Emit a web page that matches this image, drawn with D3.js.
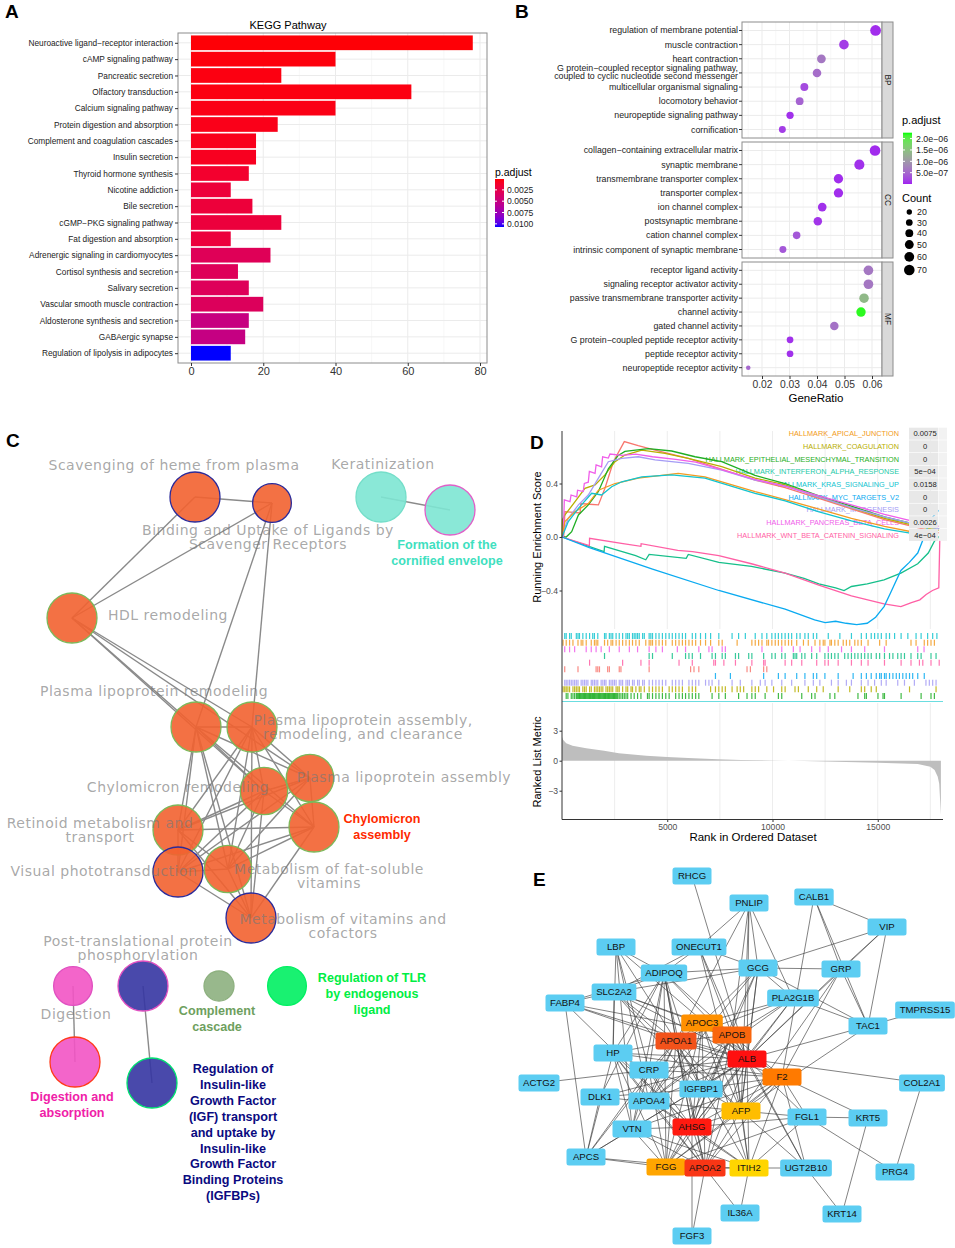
<!DOCTYPE html>
<html>
<head>
<meta charset="utf-8">
<script src="https://cdn.jsdelivr.net/npm/d3@7/dist/d3.min.js"></script>
<style>
body { margin: 0; background: #fff; }
svg { display: block; }
</style>
</head>
<body>
<svg id="fig" width="955" height="1248"></svg>
<script>
const SANS = "'Liberation Sans', Arial, Helvetica, sans-serif";
const VERD = "'DejaVu Sans', Verdana, sans-serif";

// ---------------- A: KEGG barplot data
const keggTerms = ["Neuroactive ligand\u2212receptor interaction", "cAMP signaling pathway", "Pancreatic secretion",
  "Olfactory transduction", "Calcium signaling pathway", "Protein digestion and absorption",
  "Complement and coagulation cascades", "Insulin secretion", "Thyroid hormone synthesis", "Nicotine addiction",
  "Bile secretion", "cGMP\u2212PKG signaling pathway", "Fat digestion and absorption",
  "Adrenergic signaling in cardiomyocytes", "Cortisol synthesis and secretion", "Salivary secretion",
  "Vascular smooth muscle contraction", "Aldosterone synthesis and secretion", "GABAergic synapse",
  "Regulation of lipolysis in adipocytes"];
const keggCounts = [78, 40, 25, 61, 40, 24, 18, 18, 16, 11, 17, 25, 11, 22, 13, 16, 20, 16, 15, 11];
const keggPadj = [0.0002, 0.0003, 0.0004, 0.0004, 0.0005, 0.0006, 0.0007, 0.0008, 0.0013, 0.0018, 0.0018, 0.0019,
  0.0019, 0.0031, 0.0032, 0.0032, 0.0033, 0.0050, 0.0051, 0.0107];
const keggXTicks = [0, 20, 40, 60, 80];
const keggLegendTicks = [0.0025, 0.005, 0.0075, 0.01];

// ---------------- B: GO dotplot data
const bpTerms = ["regulation of membrane potential", "muscle contraction", "heart contraction",
  "G protein\u2212coupled receptor signaling pathway,\ncoupled to cyclic nucleotide second messenger",
  "multicellular organismal signaling", "locomotory behavior", "neuropeptide signaling pathway", "cornification"];
const bpRatio = [0.0613, 0.0498, 0.0416, 0.0400, 0.0354, 0.0337, 0.0302, 0.0274];
const bpCount = [72, 58, 49, 47, 41, 39, 35, 32];
const bpPadj = [6e-8, 1.5e-7, 6.5e-7, 5.5e-7, 2.5e-7, 4.5e-7, 8e-8, 1.5e-7];
const ccTerms = ["collagen\u2212containing extracellular matrix", "synaptic membrane", "transmembrane transporter complex",
  "transporter complex", "ion channel complex", "postsynaptic membrane", "cation channel complex",
  "intrinsic component of synaptic membrane"];
const ccRatio = [0.0611, 0.0554, 0.0478, 0.0478, 0.0419, 0.0403, 0.0326, 0.0276];
const ccCount = [70, 64, 55, 55, 48, 46, 37, 32];
const ccPadj = [5e-8, 8e-8, 6e-8, 6e-8, 8e-8, 1e-7, 3.5e-7, 3.5e-7];
const mfTerms = ["receptor ligand activity", "signaling receptor activator activity",
  "passive transmembrane transporter activity", "channel activity", "gated channel activity",
  "G protein\u2212coupled peptide receptor activity", "peptide receptor activity", "neuropeptide receptor activity"];
const mfRatio = [0.0587, 0.0587, 0.0571, 0.0560, 0.0463, 0.0302, 0.0302, 0.0150];
const mfCount = [59, 59, 57, 56, 46, 30, 30, 15];
const mfPadj = [6.5e-7, 6.5e-7, 1.4e-6, 2.2e-6, 6e-7, 8e-8, 8e-8, 5e-7];
const goXTicks = [0.02, 0.03, 0.04, 0.05, 0.06];
const goLegendTicks = [2e-6, 1.5e-6, 1e-6, 5e-7];
const goLegendLabels = ["2.0e\u221206", "1.5e\u221206", "1.0e\u221206", "5.0e\u221207"];
const countLegend = [20, 30, 40, 50, 60, 70];

// ---------------- C: term network data
const cTerms = ["Scavenging of heme from plasma", "Binding and Uptake of Ligands by Scavenger Receptors",
  "Keratinization", "Formation of the cornified envelope", "HDL remodeling", "Plasma lipoprotein remodeling",
  "Plasma lipoprotein assembly, remodeling, and clearance", "Chylomicron remodeling", "Plasma lipoprotein assembly",
  "Chylomicron assembly", "Retinoid metabolism and transport", "Visual phototransduction",
  "Metabolism of fat-soluble vitamins", "Metabolism of vitamins and cofactors",
  "Post-translational protein phosphorylation", "Digestion", "Complement cascade",
  "Regulation of TLR by endogenous ligand", "Digestion and absorption",
  "Regulation of Insulin-like Growth Factor (IGF) transport and uptake by Insulin-like Growth Factor Binding Proteins (IGFBPs)"];
const cCluster = [0, 0, 1, 1, 0, 0, 0, 0, 0, 0, 0, 0, 0, 0, 2, 3, 4, 5, 3, 2];
const cHits = [10, 6, 10, 10, 10, 10, 10, 9, 9, 10, 10, 10, 9, 10, 10, 6, 3.6, 6, 10, 10];
const cEdges = "0-1 0-4 1-4 1-5 1-6 2-3 4-5 4-6 4-7 4-8 5-6 5-7 5-8 5-9 5-10 5-11 5-12 5-13 6-7 6-8 6-9 6-10 6-11 6-12 6-13 7-8 7-9 7-10 7-11 7-12 7-13 8-9 8-10 8-11 8-12 9-10 9-11 9-12 9-13 10-11 10-12 10-13 11-12 11-13 12-13 14-19 15-18";
// layout (network coordinates)
const cLayout = [[195, 497], [272, 503], [381, 497], [450, 510], [72, 618], [196, 727], [252, 727], [264, 791],
  [310, 778], [314, 827], [178, 830], [178, 872], [228, 869], [251, 918], [143, 986], [73, 986], [219, 986],
  [287, 986], [75, 1062], [152, 1083]];
const cLabelLines = [["Scavenging of heme from plasma"], ["Binding and Uptake of Ligands by", "Scavenger Receptors"],
  ["Keratinization"], ["Formation of the", "cornified envelope"], ["HDL remodeling"], ["Plasma lipoprotein remodeling"],
  ["Plasma lipoprotein assembly,", "remodeling, and clearance"], ["Chylomicron remodeling"],
  ["Plasma lipoprotein assembly"], ["Chylomicron", "assembly"], ["Retinoid metabolism and", "transport"],
  ["Visual phototransduction"], ["Metabolism of fat-soluble", "vitamins"], ["Metabolism of vitamins and", "cofactors"],
  ["Post-translational protein", "phosphorylation"], ["Digestion"], ["Complement", "cascade"],
  ["Regulation of TLR", "by endogenous", "ligand"], ["Digestion and", "absorption"],
  ["Regulation of", "Insulin-like", "Growth Factor", "(IGF) transport", "and uptake by", "Insulin-like",
    "Growth Factor", "Binding Proteins", "(IGFBPs)"]];
const cLabelPos = [[174, 470], [268, 535], [383, 469], [447, 549], [168, 620], [154, 696], [363, 725], [178, 792],
  [404, 782], [382, 823], [100, 828], [104, 876], [329, 874], [343, 924], [138, 946], [76, 1019], [217, 1015],
  [372, 982], [72, 1101], [233, 1073]];
const cLabelBold = [0, 0, 0, 1, 0, 0, 0, 0, 0, 1, 0, 0, 0, 0, 0, 0, 1, 1, 1, 1];

// ---------------- D: GSEA data (ranks in thousands)
const gsNames = ["HALLMARK_APICAL_JUNCTION", "HALLMARK_COAGULATION", "HALLMARK_EPITHELIAL_MESENCHYMAL_TRANSITION",
  "HALLMARK_INTERFERON_ALPHA_RESPONSE", "HALLMARK_KRAS_SIGNALING_UP", "HALLMARK_MYC_TARGETS_V2",
  "HALLMARK_MYOGENESIS", "HALLMARK_PANCREAS_BETA_CELLS", "HALLMARK_WNT_BETA_CATENIN_SIGNALING"];
const gsPvals = ["0.0075", "0", "0", "5e\u221204", "0.0158", "0", "0", "0.0026", "4e\u221204"];
const esApical = [[0, 0], [0.14, 0.115], [0.62, 0.19], [1.25, 0.25], [1.73, 0.35], [2.52, 0.4], [3.62, 0.44], [5.52, 0.476], [6.79, 0.45], [9.17, 0.34], [10.6, 0.28], [12.17, 0.21], [13.75, 0.14], [15.32, 0.08], [16.9, 0.03], [17.92, 0]];
const esCoag = [[0, 0], [0.02, 0.13], [0.14, 0.165], [0.62, 0.264], [1.09, 0.364], [1.57, 0.39], [2.04, 0.464], [2.52, 0.563], [2.99, 0.613], [3.79, 0.65], [4.89, 0.626], [6.0, 0.588], [7.59, 0.526], [9.17, 0.44], [10.6, 0.39], [12.17, 0.3], [13.75, 0.22], [15.32, 0.14], [16.9, 0.08], [17.92, 0.05]];
const esEmt = [[0, 0], [0.2, 0], [0.46, 0.04], [0.78, 0.165], [1.25, 0.24], [1.73, 0.34], [2.2, 0.51], [2.67, 0.61], [2.99, 0.64], [4.1, 0.66], [5.21, 0.643], [6.32, 0.6], [7.59, 0.563], [9.17, 0.46], [10.6, 0.4], [12.17, 0.31], [13.75, 0.23], [15.32, 0.15], [16.9, 0.09], [17.92, 0.06]];
const esIfn = [[0, 0], [2.0, -0.11], [2.02, -0.07], [3.5, -0.14], [3.98, -0.17], [4.14, -0.13], [5.9, -0.16], [6.0, -0.13], [7.45, -0.19], [9.0, -0.22], [10.6, -0.27], [11.5, -0.31], [12.2, -0.35], [13.0, -0.38], [13.4, -0.4], [13.75, -0.37], [14.5, -0.35], [15.3, -0.32], [16.1, -0.27], [16.9, -0.2], [17.4, -0.12], [17.7, -0.03], [17.9, 0]];
const esKras = [[0, 0], [0.3, 0.115], [0.78, 0.214], [1.41, 0.327], [1.88, 0.314], [2.36, 0.376], [2.84, 0.413], [3.79, 0.45], [5.21, 0.464], [6.79, 0.44], [9.17, 0.327], [10.6, 0.27], [12.17, 0.19], [13.75, 0.12], [15.32, 0.06], [16.9, 0.02], [17.92, 0]];
const esMyc = [[0, 0], [1.3, -0.08], [4.3, -0.24], [7.45, -0.4], [10.6, -0.54], [12.0, -0.62], [12.5, -0.64], [13.0, -0.63], [13.5, -0.645], [14.0, -0.655], [14.5, -0.645], [14.9, -0.6], [15.1, -0.56], [15.3, -0.52], [15.6, -0.42], [16.1, -0.25], [16.5, -0.19], [16.9, -0.12], [17.2, 0], [17.5, 0.13], [17.9, 0.2]];
const esMyo = [[0, 0.02], [0.06, 0.04], [0.3, 0.14], [0.78, 0.24], [1.25, 0.314], [1.73, 0.44], [2.2, 0.563], [2.84, 0.588], [3.62, 0.6], [4.42, 0.576], [6.0, 0.551], [7.59, 0.5], [9.17, 0.426], [10.6, 0.38], [12.17, 0.3], [13.75, 0.22], [15.32, 0.15], [16.9, 0.09], [17.92, 0.06]];
const esPancreas = [[0, 0], [0.06, 0], [0.11, 0.277], [0.38, 0.264], [0.43, 0.314], [0.7, 0.3], [0.74, 0.35], [1.01, 0.34], [1.06, 0.4], [1.25, 0.41], [1.3, 0.49], [1.57, 0.476], [1.62, 0.54], [1.88, 0.525], [1.93, 0.6], [2.2, 0.59], [2.28, 0.62], [2.84, 0.61], [3.5, 0.62], [4.3, 0.6], [5.4, 0.58], [6.35, 0.56], [7.45, 0.51], [9.17, 0.43], [10.6, 0.38], [12.17, 0.31], [13.75, 0.24], [15.32, 0.17], [16.9, 0.11], [17.92, 0.08]];
const esWnt = [[0, 0], [1.3, -0.065], [1.31, -0.01], [2.9, -0.05], [3.75, -0.07], [3.76, -0.05], [5.5, -0.1], [6.2, -0.11], [7.45, -0.14], [9.0, -0.2], [10.6, -0.27], [12.2, -0.36], [13.75, -0.44], [15.3, -0.5], [16.1, -0.52], [16.6, -0.49], [17.0, -0.47], [17.3, -0.43], [17.6, -0.4], [17.9, -0.38], [17.95, 0]];
const esExtra = [[0, 0], [0.08, 0], [0.14, 0.19], [0.86, 0.18], [0.89, 0.25], [1.3, 0.245], [1.73, 0.24], [2.04, 0.364], [2.44, 0.563], [2.96, 0.713], [3.62, 0.683], [4.42, 0.65], [6.0, 0.588], [9.17, 0.426], [10.6, 0.37], [12.17, 0.29], [13.75, 0.21], [15.32, 0.13], [16.9, 0.07], [17.92, 0.03]];
const rugKras = [0.13, 0.2, 0.36, 0.44, 0.68, 0.76, 0.83, 0.99, 1.15, 1.31, 1.46, 1.54, 1.7, 2.02, 2.09, 2.25, 2.33, 2.41, 2.57, 2.72, 2.88, 3.04, 3.12, 3.2, 3.35, 3.43, 3.51, 3.59, 3.67, 3.83, 3.91, 4.14, 4.22, 4.3, 4.46, 4.61, 4.77, 4.93, 5.09, 5.24, 5.4, 5.56, 5.72, 5.87, 6.19, 6.35, 6.58, 6.82, 7.06, 7.45, 8.08, 8.39, 8.71, 9.18, 9.5, 9.73, 9.97, 10.13, 10.28, 10.44, 10.6, 10.76, 10.91, 11.15, 11.31, 11.54, 11.7, 11.94, 12.1, 12.65, 13.2, 13.75, 14.22, 14.46, 14.69, 14.85, 15.01, 15.17, 15.4, 15.56, 15.8, 16.11, 16.43, 16.82, 17.06, 17.37, 17.61, 17.81];
const rugApical = [0.05, 0.2, 0.36, 0.52, 0.76, 0.91, 0.99, 1.15, 1.39, 1.54, 1.62, 1.7, 2.02, 2.17, 2.33, 2.41, 2.57, 2.72, 2.88, 3.04, 3.2, 3.35, 3.51, 3.67, 3.98, 4.14, 4.22, 4.3, 4.46, 4.61, 4.77, 4.93, 5.24, 5.4, 5.56, 5.72, 5.87, 6.03, 6.19, 6.35, 6.58, 6.82, 7.06, 7.45, 7.61, 8.32, 9.02, 9.18, 9.34, 9.5, 9.73, 9.81, 9.97, 10.13, 10.28, 10.44, 10.6, 10.76, 10.91, 11.15, 11.47, 11.7, 12.02, 12.25, 12.41, 12.49, 12.73, 12.8, 12.96, 13.12, 13.36, 13.51, 13.67, 13.91, 14.06, 14.22, 14.54, 15.09, 15.4, 16.58, 16.82, 17.21, 17.37, 17.53, 17.69];
const rugPancreas = [0.13, 0.36, 0.6, 1.15, 1.39, 1.62, 1.86, 2.25, 2.72, 3.2, 3.59, 4.14, 4.46, 4.77, 5.48, 5.87, 6.5, 6.98, 7.13, 7.61, 7.76, 9.5, 10.44, 10.99, 11.31, 11.86, 12.25, 12.65, 13.28, 13.75, 14.38, 15.32, 16.9, 17.2];
const rugIfn = [2.02, 4.14, 4.3, 5.24, 5.87, 6.03, 6.19, 6.58, 7.13, 7.29, 7.61, 7.76, 8.24, 8.39, 8.87, 9.02, 9.58, 9.97, 10.13, 10.44, 10.6, 10.99, 11.07, 11.15, 11.39, 11.54, 11.86, 12.1, 12.49, 12.65, 12.8, 12.96, 13.12, 13.43, 13.59, 13.75, 13.91, 14.06, 14.22, 14.38, 14.54, 14.69, 14.93, 15.09, 15.32, 15.56, 15.72, 15.95, 16.11, 16.27, 16.58, 16.9, 17.06, 17.53, 17.77];
const rugWnt = [1.31, 2.88, 3.75, 4.14, 5.56, 6.19, 7.21, 7.29, 7.69, 8.24, 9.02, 9.58, 9.65, 10.6, 10.91, 11.39, 12.1, 12.49, 12.65, 13.12, 13.75, 14.22, 14.54, 15.32, 16.11, 16.58, 16.98, 17.14, 17.53, 17.92];
const rugExtra = [0.13, 0.76, 1.62, 1.7, 1.78, 2.17, 2.25, 2.72, 2.8, 4.14, 6.11, 6.27, 6.5, 8.79, 8.95, 9.58, 9.73];
const rugMyc = [7.29, 8.0, 9.58, 10.28, 10.6, 11.15, 11.54, 11.94, 12.1, 12.49, 13.12, 13.83, 14.22, 14.46, 14.69, 14.93, 15.09, 15.17, 15.32, 15.4, 15.56, 15.72, 15.88, 16.03, 16.19, 16.35, 16.51, 16.66, 16.9, 17.21];
const rugMyo = [0.13, 0.2, 0.28, 0.36, 0.44, 0.52, 0.6, 0.68, 0.76, 0.91, 0.99, 1.07, 1.15, 1.23, 1.39, 1.46, 1.54, 1.62, 1.7, 1.86, 1.94, 2.02, 2.09, 2.25, 2.33, 2.41, 2.49, 2.57, 2.72, 2.8, 2.88, 3.04, 3.12, 3.2, 3.35, 3.43, 3.59, 3.67, 3.83, 3.91, 4.14, 4.3, 4.46, 4.61, 4.77, 4.93, 5.24, 5.4, 5.56, 5.72, 6.03, 6.19, 6.35, 6.5, 6.82, 6.98, 7.13, 7.45, 8.08, 8.47, 9.02, 9.42, 9.65, 9.97, 10.44, 10.91, 11.54, 11.94, 12.25, 12.8, 13.12, 13.51, 13.75, 14.22, 14.54, 14.85, 15.17, 15.4, 15.95, 16.27, 16.74, 17.29, 17.45, 17.61, 17.77];
const rugCoag = [0.05, 0.13, 0.2, 0.28, 0.36, 0.52, 0.6, 0.68, 0.76, 0.83, 0.99, 1.07, 1.15, 1.31, 1.39, 1.54, 1.62, 1.7, 1.78, 1.86, 1.94, 2.09, 2.17, 2.25, 2.33, 2.41, 2.57, 2.65, 2.72, 2.88, 3.04, 3.12, 3.28, 3.35, 3.51, 3.67, 3.75, 3.91, 4.14, 4.3, 4.46, 4.61, 4.77, 5.09, 5.24, 5.4, 5.56, 5.72, 6.03, 6.19, 6.35, 7.06, 7.29, 7.45, 7.61, 7.76, 8.08, 8.32, 8.47, 8.63, 9.02, 9.18, 9.34, 9.73, 10.05, 10.44, 10.6, 11.07, 11.23, 11.7, 12.1, 12.41, 13.12, 13.67, 14.22, 14.38, 14.69, 14.93, 16.51, 17.77];
const rugEmt = [0.2, 0.28, 0.44, 0.52, 0.6, 0.68, 0.72, 0.76, 0.8, 0.83, 0.87, 0.91, 0.95, 0.99, 1.03, 1.07, 1.11, 1.15, 1.19, 1.23, 1.27, 1.31, 1.35, 1.39, 1.43, 1.46, 1.5, 1.54, 1.58, 1.62, 1.66, 1.7, 1.74, 1.78, 1.82, 1.86, 1.9, 1.94, 1.98, 2.02, 2.06, 2.09, 2.13, 2.17, 2.21, 2.25, 2.29, 2.33, 2.37, 2.41, 2.45, 2.49, 2.53, 2.57, 2.61, 2.65, 2.72, 2.8, 2.88, 2.96, 3.04, 3.12, 3.28, 3.43, 3.59, 3.75, 4.06, 4.14, 4.3, 4.46, 4.61, 4.77, 4.93, 5.09, 5.4, 5.56, 5.72, 5.87, 6.03, 6.19, 6.35, 6.5, 7.13, 7.45, 7.76, 8.39, 8.79, 9.02, 9.18, 9.65, 10.28, 10.44, 11.39, 11.86, 12.02, 12.73, 12.96, 14.06, 14.38, 14.46, 15.01, 15.25, 15.32, 16.11, 17.06, 17.53, 17.69];
const rankedMetric = [[0, 2.4], [0.05, 2.1], [0.2, 1.75], [0.5, 1.5], [1.15, 1.24], [2, 1.0], [2.7, 0.75], [4, 0.5], [5, 0.36], [6, 0.26], [7.4, 0.15], [8.5, 0.08], [10, 0.02], [11.5, -0.04], [13, -0.1], [15, -0.2], [16.9, -0.33], [17.5, -0.6], [17.7, -0.93], [17.85, -1.6], [17.92, -2.3], [18.0, -5.4]];
const esTicks = [-0.4, 0, 0.4];
const rmTicks = [-3, 0, 3];
const rankTicks = [5, 10, 15];

// ---------------- E: PPI network data
const ppiGenes = ["RHCG", "PNLIP", "CALB1", "VIP", "LBP", "ONECUT1", "GCG", "GRP", "ADIPOQ", "SLC2A2", "FABP4",
  "PLA2G1B", "TMPRSS15", "TAC1", "APOC3", "APOB", "APOA1", "HP", "ALB", "CRP", "F2", "ACTG2", "COL2A1", "IGFBP1",
  "DLK1", "APOA4", "AFP", "FGL1", "KRT5", "AHSG", "VTN", "APCS", "FGG", "APOA2", "ITIH2", "UGT2B10", "PRG4",
  "IL36A", "KRT14", "FGF3"];
const hubGenes = ["ALB", "AHSG", "APOA2", "APOA1", "APOB", "F2", "APOC3", "FGG", "AFP", "ITIH2"];
const ppiEdges = "RHCG-ALB PNLIP-ONECUT1 PNLIP-ALB PNLIP-APOB PNLIP-APOA1 PNLIP-AFP PNLIP-PLA2G1B PNLIP-GCG " +
  "CALB1-VIP CALB1-TAC1 CALB1-GRP CALB1-F2 VIP-GCG VIP-GRP VIP-TAC1 VIP-ALB GRP-GCG GRP-TAC1 GRP-ALB GRP-AFP GRP-F2 " +
  "LBP-ADIPOQ LBP-HP LBP-CRP LBP-APOA1 LBP-ALB LBP-APOA4 LBP-VTN ONECUT1-ADIPOQ ONECUT1-GCG ONECUT1-ALB ONECUT1-AFP " +
  "ONECUT1-APOB ONECUT1-SLC2A2 GCG-ADIPOQ GCG-SLC2A2 GCG-APOC3 GCG-ALB GCG-AFP GCG-APOA4 GCG-TAC1 GCG-IGFBP1 " +
  "GCG-AHSG GCG-PLA2G1B ADIPOQ-SLC2A2 ADIPOQ-APOA1 ADIPOQ-ALB ADIPOQ-CRP ADIPOQ-HP ADIPOQ-APOB ADIPOQ-IGFBP1 " +
  "ADIPOQ-DLK1 ADIPOQ-VTN ADIPOQ-AHSG ADIPOQ-APOA2 ADIPOQ-FGG SLC2A2-FABP4 SLC2A2-APOB SLC2A2-ALB SLC2A2-APOC3 " +
  "SLC2A2-HP SLC2A2-APOA1 SLC2A2-AFP SLC2A2-IGFBP1 FABP4-APOA1 FABP4-ALB FABP4-APCS FABP4-ADIPOQ FABP4-APOB " +
  "FABP4-AHSG PLA2G1B-APOA1 PLA2G1B-APOB PLA2G1B-ALB PLA2G1B-APOC3 PLA2G1B-TAC1 PLA2G1B-AHSG PLA2G1B-APOA4 " +
  "TMPRSS15-TAC1 TAC1-ALB TAC1-AFP HP-ALB HP-APOA1 HP-CRP HP-APOA4 HP-VTN HP-AHSG HP-APOA2 HP-FGG HP-APCS HP-F2 " +
  "CRP-ALB CRP-APOA1 CRP-APCS CRP-IGFBP1 CRP-AHSG CRP-FGG CRP-F2 CRP-APOA2 CRP-VTN ACTG2-CRP IGFBP1-ALB IGFBP1-AFP " +
  "IGFBP1-AHSG IGFBP1-APOA1 IGFBP1-F2 DLK1-AFP DLK1-APCS DLK1-IGFBP1 DLK1-ALB APOA4-ALB APOA4-APOA1 APOA4-APOB " +
  "APOA4-APOC3 APOA4-AHSG APOA4-APOA2 APOA4-ITIH2 VTN-ALB VTN-APOA1 VTN-AHSG VTN-F2 VTN-FGG VTN-APCS VTN-ITIH2 " +
  "VTN-APOA2 APCS-FGG APCS-APOA2 APCS-ALB APCS-APOA1 FGL1-F2 FGL1-ALB FGL1-AFP FGL1-ITIH2 FGL1-FGG FGL1-AHSG " +
  "FGL1-KRT5 FGL1-PRG4 KRT5-KRT14 KRT5-F2 COL2A1-ALB COL2A1-PRG4 UGT2B10-ITIH2 UGT2B10-ALB UGT2B10-F2 UGT2B10-AFP " +
  "UGT2B10-KRT14 UGT2B10-APOB IL36A-APOA2 IL36A-ITIH2 FGF3-APOA2 FGF3-AHSG " +
  "ALB-APOA1 ALB-APOB ALB-APOC3 ALB-AHSG ALB-APOA2 ALB-F2 ALB-AFP ALB-FGG ALB-ITIH2 APOA1-APOB APOA1-APOC3 " +
  "APOA1-AHSG APOA1-APOA2 APOA1-F2 APOA1-AFP APOA1-FGG APOA1-ITIH2 APOB-APOC3 APOB-AHSG APOB-APOA2 APOB-F2 " +
  "APOB-AFP APOB-FGG APOB-ITIH2 APOC3-AHSG APOC3-APOA2 APOC3-F2 APOC3-AFP APOC3-FGG APOC3-ITIH2 AHSG-APOA2 " +
  "AHSG-F2 AHSG-AFP AHSG-FGG AHSG-ITIH2 APOA2-F2 APOA2-AFP APOA2-FGG APOA2-ITIH2 F2-AFP F2-FGG F2-ITIH2 AFP-FGG " +
  "AFP-ITIH2 FGG-ITIH2";
// layout (network coordinates)
const ppiLayout = [[692, 876], [749, 903], [814, 897], [887, 927], [616, 947], [699, 947], [758, 968], [841, 969],
  [664, 973], [614, 992], [565, 1003], [793, 998], [925, 1010], [868, 1026], [702, 1023], [732, 1035], [676, 1041],
  [613, 1053], [747, 1059], [649, 1070], [782, 1077], [539, 1083], [922, 1083], [701, 1089], [600, 1097],
  [649, 1101], [741, 1111], [807, 1117], [868, 1118], [692, 1127], [632, 1129], [586, 1157], [666, 1167],
  [705, 1168], [749, 1168], [806, 1168], [895, 1172], [740, 1213], [842, 1214], [692, 1236]];

// =====================================================================
const svg = d3.select("#fig");
svg.append("rect").attr("width", 955).attr("height", 1248).attr("fill", "#fff");
const defs = svg.append("defs");

function txt(g, x, y, s, o = {}) {
  return g.append("text").attr("x", x).attr("y", y)
    .attr("font-family", o.family || SANS).attr("font-size", o.size || 10)
    .attr("font-weight", o.weight || "normal").attr("fill", o.fill || "#000")
    .attr("text-anchor", o.anchor || "start").text(s);
}

// vertical colour bar; topIsMax decides which end of the domain sits at the top
function gradient(id, scale, domain, topIsMax) {
  const gr = defs.append("linearGradient").attr("id", id)
    .attr("x1", 0).attr("y1", 0).attr("x2", 0).attr("y2", 1);
  d3.range(0, 1.0001, 0.05).forEach(t => {
    const v = topIsMax ? domain[1] - t * (domain[1] - domain[0]) : domain[0] + t * (domain[1] - domain[0]);
    gr.append("stop").attr("offset", t).attr("stop-color", scale(v));
  });
}

// ---------------- Panel A
(function () {
  const g = svg.append("g");
  const L = 178, R = 487, T = 33, B = 363;
  const x = d3.scaleLinear().domain([0, 80]).range([191, 480]);
  const y = d3.scalePoint().domain(keggTerms).range([T, B]).padding(0.6);
  const dom = [0.0001, 0.0107];
  const col = d3.scaleLinear().domain(dom).range(["#ff0000", "#0000ff"]).interpolate(d3.interpolateLab);
  const bw = y.step() * 0.9;

  g.selectAll("line.mn").data([10, 30, 50, 70]).join("line").attr("class", "mn")
    .attr("x1", d => x(d)).attr("x2", d => x(d)).attr("y1", T).attr("y2", B)
    .attr("stroke", "#F4F4F4").attr("stroke-width", 0.6);
  g.selectAll("line.mj").data(keggXTicks).join("line").attr("class", "mj")
    .attr("x1", d => x(d)).attr("x2", d => x(d)).attr("y1", T).attr("y2", B)
    .attr("stroke", "#EBEBEB").attr("stroke-width", 1);
  g.selectAll("line.hz").data(keggTerms).join("line").attr("class", "hz")
    .attr("x1", L).attr("x2", R).attr("y1", d => y(d)).attr("y2", d => y(d))
    .attr("stroke", "#EBEBEB").attr("stroke-width", 1);

  g.selectAll("rect.bar").data(keggTerms).join("rect").attr("class", "bar")
    .attr("x", x(0)).attr("y", d => y(d) - bw / 2)
    .attr("width", (d, i) => x(keggCounts[i]) - x(0)).attr("height", bw)
    .attr("fill", (d, i) => col(keggPadj[i]));

  g.append("rect").attr("x", L).attr("y", T).attr("width", R - L).attr("height", B - T)
    .attr("fill", "none").attr("stroke", "#8C8C8C").attr("stroke-width", 1);

  const xa = g.append("g").attr("transform", `translate(0,${B})`)
    .call(d3.axisBottom(x).tickValues(keggXTicks).tickSize(3).tickPadding(1.5));
  xa.select(".domain").remove();
  xa.selectAll("line").attr("stroke", "#333");
  xa.selectAll("text").attr("font-size", 11).attr("font-family", SANS).attr("fill", "#333");

  const ya = g.append("g").attr("transform", `translate(${L},0)`)
    .call(d3.axisLeft(y).tickSize(3).tickPadding(2));
  ya.select(".domain").remove();
  ya.selectAll("line").attr("stroke", "#333");
  ya.selectAll("text").attr("font-size", 8.3).attr("font-family", SANS).attr("fill", "#222");

  txt(g, 288, 29, "KEGG Pathway", { size: 11, anchor: "middle" });

  // legend
  gradient("gradA", col, dom, false);
  txt(g, 495, 176, "p.adjust", { size: 10.5 });
  const ly = d3.scaleLinear().domain(dom).range([179, 227]);
  g.append("rect").attr("x", 495).attr("y", 179).attr("width", 9).attr("height", 48).attr("fill", "url(#gradA)");
  keggLegendTicks.forEach(v => {
    g.append("line").attr("x1", 495).attr("x2", 497).attr("y1", ly(v)).attr("y2", ly(v)).attr("stroke", "#fff");
    g.append("line").attr("x1", 502).attr("x2", 504).attr("y1", ly(v)).attr("y2", ly(v)).attr("stroke", "#fff");
    txt(g, 507, ly(v) + 3, d3.format(".4f")(v), { size: 8.6, fill: "#222" });
  });
})();

// ---------------- Panel B
(function () {
  const g = svg.append("g");
  const L = 742, R = 882;
  const x = d3.scaleLinear().domain([0.02, 0.06]).range([762, 872]);
  const dom = [2e-9, 2.26e-6];
  const col = d3.scaleLinear().domain(dom).range(["#A020F0", "#00FF00"]).interpolate(d3.interpolateLab);
  const rr = d3.scaleSqrt().domain([10, 75]).range([1.8, 5.5]);
  const facets = [
    { key: "BP", terms: bpTerms, ratio: bpRatio, count: bpCount, padj: bpPadj, top: 22, bottom: 138 },
    { key: "CC", terms: ccTerms, ratio: ccRatio, count: ccCount, padj: ccPadj, top: 142, bottom: 258 },
    { key: "MF", terms: mfTerms, ratio: mfRatio, count: mfCount, padj: mfPadj, top: 262, bottom: 376 }
  ];
  facets.forEach(f => {
    const y = d3.scalePoint().domain(f.terms).range([f.top, f.bottom]).padding(0.6);
    const fg = g.append("g");
    fg.selectAll("line.mn").data([0.015, 0.025, 0.035, 0.045, 0.055]).join("line").attr("class", "mn")
      .attr("x1", d => x(d)).attr("x2", d => x(d)).attr("y1", f.top).attr("y2", f.bottom)
      .attr("stroke", "#F4F4F4").attr("stroke-width", 0.6);
    fg.selectAll("line.mj").data(goXTicks).join("line").attr("class", "mj")
      .attr("x1", d => x(d)).attr("x2", d => x(d)).attr("y1", f.top).attr("y2", f.bottom)
      .attr("stroke", "#EBEBEB");
    fg.selectAll("line.hz").data(f.terms).join("line").attr("class", "hz")
      .attr("x1", L).attr("x2", R).attr("y1", d => y(d)).attr("y2", d => y(d)).attr("stroke", "#EBEBEB");
    fg.selectAll("circle").data(f.terms).join("circle")
      .attr("cx", (d, i) => x(f.ratio[i])).attr("cy", d => y(d))
      .attr("r", (d, i) => rr(f.count[i])).attr("fill", (d, i) => col(f.padj[i]));
    fg.append("rect").attr("x", L).attr("y", f.top).attr("width", R - L).attr("height", f.bottom - f.top)
      .attr("fill", "none").attr("stroke", "#8C8C8C");
    fg.append("rect").attr("x", R).attr("y", f.top).attr("width", 11).attr("height", f.bottom - f.top)
      .attr("fill", "#D9D9D9").attr("stroke", "#8C8C8C");
    fg.append("text").attr("transform", `translate(${R + 3},${(f.top + f.bottom) / 2}) rotate(90)`)
      .attr("text-anchor", "middle").attr("font-family", SANS).attr("font-size", 8.2).attr("fill", "#1A1A1A")
      .text(f.key);
    f.terms.forEach(t => {
      const cy = y(t);
      fg.append("line").attr("x1", L - 3).attr("x2", L).attr("y1", cy).attr("y2", cy).attr("stroke", "#333");
      const lines = t.split("\n");
      if (lines.length === 1) {
        txt(fg, L - 4, cy + 3, t, { size: 8.8, anchor: "end", fill: "#222" });
      } else {
        txt(fg, L - 4, cy - 1.5, lines[0], { size: 8.8, anchor: "end", fill: "#222" });
        txt(fg, L - 4, cy + 6.5, lines[1], { size: 8.8, anchor: "end", fill: "#222" });
      }
    });
  });
  const xa = g.append("g").attr("transform", "translate(0,376)")
    .call(d3.axisBottom(x).tickValues(goXTicks).tickFormat(d3.format(".2f")).tickSize(3).tickPadding(1.5));
  xa.select(".domain").remove();
  xa.selectAll("line").attr("stroke", "#333");
  xa.selectAll("text").attr("font-size", 10.3).attr("font-family", SANS).attr("fill", "#333");
  txt(g, 816, 402, "GeneRatio", { size: 11.5, anchor: "middle" });

  // legends
  gradient("gradB", col, dom, true);
  txt(g, 902, 124, "p.adjust", { size: 11 });
  const ly = d3.scaleLinear().domain(dom).range([184, 132.7]);
  g.append("rect").attr("x", 903).attr("y", 132.7).attr("width", 9).attr("height", 51.3).attr("fill", "url(#gradB)");
  goLegendTicks.forEach((v, i) => {
    g.append("line").attr("x1", 903).attr("x2", 905).attr("y1", ly(v)).attr("y2", ly(v)).attr("stroke", "#fff");
    g.append("line").attr("x1", 910).attr("x2", 912).attr("y1", ly(v)).attr("y2", ly(v)).attr("stroke", "#fff");
    txt(g, 916, ly(v) + 3.2, goLegendLabels[i], { size: 8.8, fill: "#222" });
  });
  txt(g, 902, 202, "Count", { size: 11 });
  let cy = 212, prevH = null;
  countLegend.forEach(c => {
    const h = Math.max(10.5, 2 * rr(c) + 3);
    if (prevH !== null) cy += (prevH + h) / 2;
    prevH = h;
    g.append("circle").attr("cx", 909.3).attr("cy", cy).attr("r", rr(c)).attr("fill", "#000");
    txt(g, 917, cy + 3.2, c, { size: 8.8, fill: "#222" });
  });
})();

// ---------------- Panel C
(function () {
  const g = svg.append("g");
  const px = d3.scaleLinear().domain([0, 520]).range([0, 520]);
  const py = d3.scaleLinear().domain([440, 1210]).range([440, 1210]);
  const rr = d3.scaleSqrt().domain([0, 10]).range([0, 25]);
  const clusterFill = ["#F26230", "#7DE5D3", "#3535A2", "#F254C4", "#8DB07F", "#00F062"];
  const nodeStroke = ["#2B2B9A", "#2B2B9A", "#74DEC9", "#E060C8", "#7CB85A", "#7CB85A", "#7CB85A", "#7CB85A",
    "#7CB85A", "#7CB85A", "#7CB85A", "#2B2B9A", "#7CB85A", "#2B2B9A", "#E050C0", "#E050C0", "#8DB07F",
    "#00F062", "#FF3B1A", "#00E070"];
  const boldFill = { 3: "#3FE0C0", 9: "#FF2A00", 16: "#6E9F5E", 17: "#00EE44", 18: "#F020A8", 19: "#0A0A80" };

  const edges = cEdges.split(" ").map(s => s.split("-").map(Number));
  g.selectAll("line").data(edges).join("line")
    .attr("x1", d => px(cLayout[d[0]][0])).attr("y1", d => py(cLayout[d[0]][1]))
    .attr("x2", d => px(cLayout[d[1]][0])).attr("y2", d => py(cLayout[d[1]][1]))
    .attr("stroke", "#8A8A8A").attr("stroke-width", 1.4);

  g.selectAll("circle").data(cTerms).join("circle")
    .attr("cx", (d, i) => px(cLayout[i][0])).attr("cy", (d, i) => py(cLayout[i][1]))
    .attr("r", (d, i) => rr(cHits[i]))
    .attr("fill", (d, i) => clusterFill[cCluster[i]]).attr("fill-opacity", 0.9)
    .attr("stroke", (d, i) => nodeStroke[i]).attr("stroke-width", 1.3);

  cTerms.forEach((t, i) => {
    const [lx, ly] = cLabelPos[i];
    const lines = cLabelLines[i];
    const bold = cLabelBold[i] === 1;
    lines.forEach((s, k) => {
      const el = g.append("text").attr("x", px(lx)).attr("text-anchor", "middle").text(s);
      if (bold) {
        el.attr("y", py(ly + k * 15.9)).attr("font-family", SANS).attr("font-weight", "bold")
          .attr("font-size", 12.6).attr("fill", boldFill[i]);
      } else {
        el.attr("y", py(ly + k * 13.6)).attr("font-family", VERD).attr("font-size", 14)
          .attr("letter-spacing", 0.5).attr("fill", "#777").attr("fill-opacity", 0.65);
      }
    });
  });
})();

// ---------------- Panel D
(function () {
  const g = svg.append("g");
  const x = d3.scaleLinear().domain([0, 18.1]).range([562, 943]);
  const yES = d3.scaleLinear().domain([-0.4, 0.4]).range([590.5, 483.5]);
  const yRM = d3.scaleLinear().domain([-3, 3]).range([790.7, 730.7]);
  const sets = [
    { es: esApical, rug: rugApical, col: "#F29B22" },
    { es: esCoag, rug: rugCoag, col: "#B8AE00" },
    { es: esEmt, rug: rugEmt, col: "#1FAE24" },
    { es: esIfn, rug: rugIfn, col: "#16BF8A" },
    { es: esKras, rug: rugKras, col: "#12C4CF" },
    { es: esMyc, rug: rugMyc, col: "#0AAAF0" },
    { es: esMyo, rug: rugMyo, col: "#A59CF5" },
    { es: esPancreas, rug: rugPancreas, col: "#F05EEA" },
    { es: esWnt, rug: rugWnt, col: "#FF5FA5" },
    { es: esExtra, rug: rugExtra, col: "#F8766D" }
  ];
  const labelCols = ["#F29B22", "#B8AE00", "#1FAE24", "#1CC9A8", "#12C4CF", "#0AAAF0", "#A59CF5", "#F05EEA", "#FF5FA5"];
  const rugOrder = [4, 0, 7, 3, 8, 9, 5, 6, 1, 2];

  const grid = d3.range(2.5, 18.1, 2.5);
  [[431, 629], [703, 819]].forEach(([a, b]) => {
    g.append("g").selectAll("line").data(grid).join("line")
      .attr("x1", d => x(d)).attr("x2", d => x(d)).attr("y1", a).attr("y2", b)
      .attr("stroke", "#EBEBEB").attr("stroke-width", 0.9);
  });

  // table labels (under curves)
  gsNames.forEach((n, i) => {
    txt(g, 899, 436.3 + i * 12.65, n, { size: 7.3, anchor: "end", fill: labelCols[i] });
  });

  const line = d3.line().x(d => x(d[0])).y(d => yES(d[1]));
  [9, 1, 2, 6, 7, 0, 4, 3, 8, 5].forEach(k => {
    g.append("path").attr("d", line(sets[k].es)).attr("fill", "none")
      .attr("stroke", sets[k].col).attr("stroke-width", 1.3);
  });

  // table boxes
  gsPvals.forEach((p, i) => {
    const cy = 433.7 + i * 12.65;
    g.append("rect").attr("x", 909).attr("y", cy - 6).attr("width", 29).attr("height", 12)
      .attr("fill", "#E8E8E8");
    g.append("rect").attr("x", 938.5).attr("y", cy - 6).attr("width", 8.5).attr("height", 12)
      .attr("fill", "#F2F2F2");
    txt(g, 925, cy + 2.6, p, { size: 7.6, anchor: "middle", fill: "#222" });
  });

  // rugs
  rugOrder.forEach((k, row) => {
    const y0 = 633 + row * 6.67;
    g.append("g").selectAll("line").data(sets[k].rug).join("line")
      .attr("x1", d => x(d)).attr("x2", d => x(d)).attr("y1", y0).attr("y2", y0 + 6)
      .attr("stroke", sets[k].col).attr("stroke-width", 1.2).attr("stroke-opacity", 0.85);
  });
  g.append("line").attr("x1", 562).attr("x2", 943).attr("y1", 701.5).attr("y2", 701.5)
    .attr("stroke", "#6BDDE0").attr("stroke-width", 1);

  // ranked list metric
  const area = d3.area().x(d => x(d[0])).y0(yRM(0)).y1(d => yRM(d[1]));
  g.append("path").attr("d", area(rankedMetric)).attr("fill", "#BEBEBE");

  // axes
  g.append("line").attr("x1", 562).attr("x2", 562).attr("y1", 431).attr("y2", 819.5).attr("stroke", "#333");
  g.append("line").attr("x1", 562).attr("x2", 943).attr("y1", 819.5).attr("y2", 819.5).attr("stroke", "#333");
  const ya = g.append("g").attr("transform", "translate(562,0)")
    .call(d3.axisLeft(yES).tickValues(esTicks).tickSize(2.5).tickPadding(1.5).tickFormat(d3.format(".1f")));
  ya.select(".domain").remove();
  const yb = g.append("g").attr("transform", "translate(562,0)")
    .call(d3.axisLeft(yRM).tickValues(rmTicks).tickSize(2.5).tickPadding(1.5).tickFormat(d3.format("d")));
  yb.select(".domain").remove();
  const xa = g.append("g").attr("transform", "translate(0,819.5)")
    .call(d3.axisBottom(x).tickValues(rankTicks).tickSize(2.5).tickPadding(1.5).tickFormat(d => d * 1000));
  xa.select(".domain").remove();
  [ya, yb, xa].forEach(a => {
    a.selectAll("line").attr("stroke", "#333");
    a.selectAll("text").attr("font-size", 8.6).attr("font-family", SANS).attr("fill", "#4D4D4D");
  });
  g.append("text").attr("transform", "translate(541,537) rotate(-90)").attr("text-anchor", "middle")
    .attr("font-family", SANS).attr("font-size", 11).text("Running Enrichment Score");
  g.append("text").attr("transform", "translate(541,762) rotate(-90)").attr("text-anchor", "middle")
    .attr("font-family", SANS).attr("font-size", 11).text("Ranked List Metric");
  txt(g, 753, 841, "Rank in Ordered Dataset", { size: 11.5, anchor: "middle" });
})();

// ---------------- Panel E
(function () {
  const g = svg.append("g");
  const px = d3.scaleLinear().domain([500, 955]).range([500, 955]);
  const py = d3.scaleLinear().domain([860, 1248]).range([860, 1248]);
  const hubCol = d3.scaleLinear().domain([0, 1, 3, 5, 7, 9])
    .range(["#FF1010", "#FF1A10", "#F2521A", "#FF7A00", "#FFA500", "#FFD500"]);
  const idx = new Map(ppiGenes.map((d, i) => [d, i]));
  const edges = ppiEdges.split(" ").map(s => s.split("-").map(n => idx.get(n)));
  g.append("g").selectAll("line").data(edges).join("line")
    .attr("x1", d => px(ppiLayout[d[0]][0])).attr("y1", d => py(ppiLayout[d[0]][1]))
    .attr("x2", d => px(ppiLayout[d[1]][0])).attr("y2", d => py(ppiLayout[d[1]][1]))
    .attr("stroke", "#3A3A3A").attr("stroke-width", 0.75).attr("stroke-opacity", 0.85);

  ppiGenes.forEach((gene, i) => {
    const cx = px(ppiLayout[i][0]), cy = py(ppiLayout[i][1]);
    const h = hubGenes.indexOf(gene);
    const ng = g.append("g");
    const rect = ng.append("rect");
    const t = ng.append("text").attr("x", cx).attr("y", cy + 3.4).attr("text-anchor", "middle")
      .attr("font-family", SANS).attr("font-size", 9.6).attr("fill", "#111").text(gene);
    const w = Math.max(39, t.node().getComputedTextLength() + 9);
    rect.attr("x", cx - w / 2).attr("y", cy - 8.5).attr("width", w).attr("height", 17).attr("rx", 2.5)
      .attr("fill", h >= 0 ? hubCol(h) : "#5CCDF2");
  });
})();

// panel letters
[["A", 5, 18], ["B", 515, 18], ["C", 6, 447], ["D", 530, 449], ["E", 533, 886]].forEach(([s, x, y]) => {
  txt(svg, x, y, s, { size: 19, weight: "bold" });
});
</script>
</body>
</html>
